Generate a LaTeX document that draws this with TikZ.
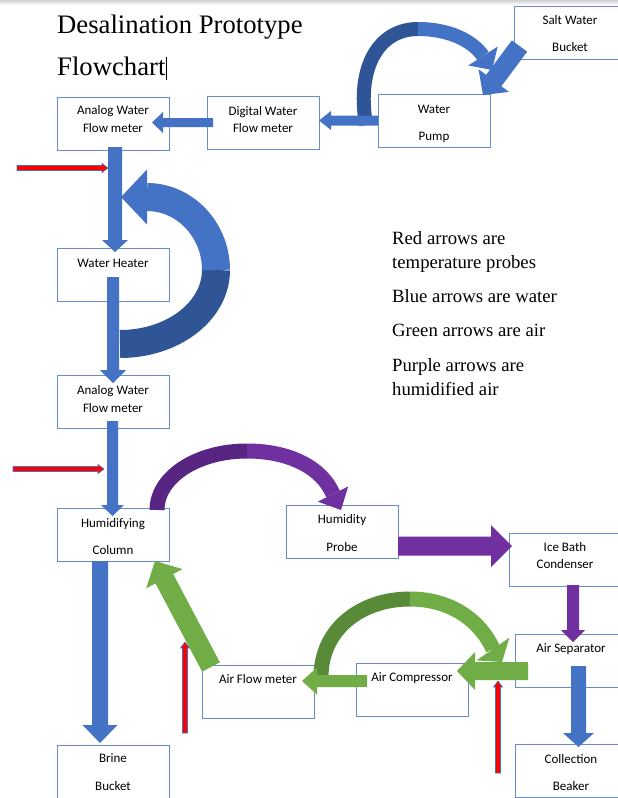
\documentclass[tikz,border=0pt]{standalone}
\usepackage{fontspec}
\setmainfont{Liberation Serif}
\newfontfamily\cf{Carlito}
\usetikzlibrary{calc}
\definecolor{ablue}{RGB}{68,114,196}
\definecolor{adblue}{RGB}{47,85,151}
\definecolor{apurple}{RGB}{112,48,160}
\definecolor{adpurple}{RGB}{88,38,130}
\definecolor{agreen}{RGB}{112,173,71}
\definecolor{adgreen}{RGB}{88,138,55}
\definecolor{ared}{RGB}{255,0,0}
\definecolor{boxc}{RGB}{105,140,208}
% block arrow: style, start, tip, half shaft, half head, head length
\newcommand\barrow[6]{%
  \coordinate (bH) at ($(#3)!#6!(#2)$);
  \fill[#1] ($(#2)!#4!90:(#3)$) -- ($(bH)!#4!90:(#3)$) -- ($(bH)!#5!90:(#3)$) -- (#3)
    -- ($(bH)!#5!-90:(#3)$) -- ($(bH)!#4!-90:(#3)$) -- ($(#2)!#4!-90:(#3)$) -- cycle;}
% arrow head only: style, base, tip, half width
\newcommand\bhead[4]{%
  \fill[#1] ($(#2)!#4!90:(#3)$) -- (#3) -- ($(#2)!#4!-90:(#3)$) -- cycle;}
\begin{document}
\begin{tikzpicture}[x=1pt,y=-1pt,
  box/.style={draw=boxc, line width=0.9pt, fill=white, minimum width=112pt, minimum height=53pt, inner sep=0pt, outer sep=0pt},
  lbl/.style={font={\cf\fontsize{13}{15}\selectfont}, anchor=base, inner sep=0pt},
  ttl/.style={font={\fontsize{26.7}{32}\selectfont}, anchor=base west, inner sep=0pt},
  lgd/.style={font={\fontsize{18.7}{23}\selectfont}, anchor=base west, inner sep=0pt},
  probe/.style={fill=ared, draw=ablue, line width=0.6pt}]
\useasboundingbox (0,0) rectangle (618,798);
\fill[white] (0,0) rectangle (618,798);
\shade[top color=black!18, bottom color=white] (0,0) rectangle (618,5);

% title
\node[ttl] (t1) at (57,33) {Desalination Prototype};
\node[ttl] (t2) at (57,75) {Flowchart};
\draw[line width=0.8pt] ($(t2.base east)+(1,5)$) -- ($(t2.base east)+(1,-18)$);

% boxes
\node[box] (salt) at (570,32.5) {};
\node[box] (pump) at (434,120.5) {};
\node[box] (digital) at (263,123) {};
\node[box] (analogA) at (113,123.5) {};
\node[box] (heater) at (113,274.5) {};
\node[box] (analogB) at (113,401.5) {};
\node[box] (humid) at (113,534.5) {};
\node[box] (hprobe) at (342,531.5) {};
\node[box] (ice) at (565,559.5) {};
\node[box] (airsep) at (571,660.5) {};
\node[box] (flowm) at (258,691.5) {};
\node[box] (comp) at (412,689.5) {};
\node[box] (coll) at (571,770.5) {};
\node[box] (brine) at (113,771.5) {};

% curved arrows
\coordinate (c1a) at (366,125); \coordinate (c1m) at (418,29);
\coordinate (c1h) at (483,56); \coordinate (c1t) at (492,70);
\draw[adblue, line width=14pt] (c1a) .. controls (356,65) and (380,29) .. (c1m);
\draw[ablue, line width=14pt] (c1m) .. controls (448,29) and (472,40) .. (c1h);
\bhead{ablue}{c1h}{c1t}{17.5pt}

% straight arrows (water)
\coordinate (s1a) at (519.5,46); \coordinate (s1b) at (483,95);
\barrow{ablue}{s1a}{s1b}{9.5pt}{19pt}{18pt}
\coordinate (s2a) at (pump.west); \coordinate (s2b) at (digital.east |- pump.west);
\barrow{ablue}{s2a}{s2b}{5pt}{9.5pt}{12pt}
\coordinate (s3a) at (213,122.5); \coordinate (s3b) at (152,122.5);
\barrow{ablue}{s3a}{s3b}{4.5pt}{10.5pt}{11pt}
\coordinate (s4a) at (115,147); \coordinate (s4b) at (115,252);
\barrow{ablue}{s4a}{s4b}{7pt}{13pt}{12pt}
\coordinate (s5a) at (113,277); \coordinate (s5b) at (113,383);
\barrow{ablue}{s5a}{s5b}{6pt}{13pt}{13pt}

% heater loop
\coordinate (c2a) at (120,344); \coordinate (c2m) at (216,270);
\coordinate (c2h) at (147,197); \coordinate (c2t) at (121,197);
\draw[adblue, line width=28pt] (c2a) .. controls (173,344) and (216,311) .. (c2m);
\draw[ablue, line width=28pt] (c2m) .. controls (216,230) and (185,197) .. (c2h);
\bhead{ablue}{c2h}{c2t}{27.5pt}

\coordinate (s6a) at (112.5,421); \coordinate (s6b) at (112.5,516);
\barrow{ablue}{s6a}{s6b}{5.5pt}{11.5pt}{11pt}
\coordinate (s7a) at (100,561); \coordinate (s7b) at (100,743);
\barrow{ablue}{s7a}{s7b}{8pt}{17.5pt}{18pt}

% purple
\coordinate (c3a) at (157,510); \coordinate (c3m) at (247,451);
\coordinate (c3h) at (333,494); \coordinate (c3t) at (341,510);
\draw[adpurple, line width=15pt] (c3a) .. controls (157,477) and (197,451) .. (c3m);
\draw[apurple, line width=15pt] (c3m) .. controls (290,451) and (322,468) .. (c3h);
\bhead{apurple}{c3h}{c3t}{17pt}
\coordinate (s8a) at (398,546); \coordinate (s8b) at (512,546);
\barrow{apurple}{s8a}{s8b}{9.5pt}{21pt}{21pt}
\coordinate (s9a) at (573,585); \coordinate (s9b) at (573,642);
\barrow{apurple}{s9a}{s9b}{6pt}{12pt}{12pt}
\coordinate (s10a) at (578.5,666); \coordinate (s10b) at (578.5,747);
\barrow{ablue}{s10a}{s10b}{7.5pt}{15.5pt}{14pt}

% green
\coordinate (c4a) at (321,677); \coordinate (c4m) at (410,599);
\coordinate (c4h) at (493,649); \coordinate (c4t) at (502,662);
\draw[adgreen, line width=15pt] (c4a) .. controls (321,630) and (360,599) .. (c4m);
\draw[agreen, line width=15pt] (c4m) .. controls (450,599) and (480,620) .. (c4h);
\coordinate (s11a) at (528,671); \coordinate (s11b) at (457,671);
\barrow{agreen}{s11a}{s11b}{9pt}{19pt}{18pt}
\bhead{agreen}{c4h}{c4t}{20pt}
\coordinate (s12a) at (367,681); \coordinate (s12b) at (302,681);
\barrow{agreen}{s12a}{s12b}{6pt}{13.5pt}{15pt}
\coordinate (s13a) at (211,667); \coordinate (s13b) at (155,561);
\barrow{agreen}{s13a}{s13b}{10pt}{20.5pt}{20pt}

% temperature probes
\coordinate (r1a) at (17,168); \coordinate (r1b) at (108,168);
\barrow{probe}{r1a}{r1b}{2.5pt}{4.5pt}{6pt}
\coordinate (r2a) at (13,469); \coordinate (r2b) at (104,469);
\barrow{probe}{r2a}{r2b}{2.5pt}{4.5pt}{6pt}
\coordinate (r3a) at (185,733); \coordinate (r3b) at (185,642);
\barrow{probe}{r3a}{r3b}{2.5pt}{4.5pt}{6pt}
\coordinate (r4a) at (498,773); \coordinate (r4b) at (498,681);
\barrow{probe}{r4a}{r4b}{2.5pt}{4.5pt}{6pt}

% labels
\node[lbl] (saltA) at ($(salt.north)+(0,18.5)$) {Salt Water};
\node[lbl] (saltB) at ($(salt.north)+(0,45.5)$) {Bucket};
\node[lbl] (pumpA) at ($(pump.north)+(0,19.5)$) {Water};
\node[lbl] (pumpB) at ($(pump.north)+(0,46.5)$) {Pump};
\node[lbl] (digA) at ($(digital.north)+(0,18.5)$) {Digital Water};
\node[lbl] (digB) at ($(digital.north)+(0,35.5)$) {Flow meter};
\node[lbl] (anaA) at ($(analogA.north)+(0,17.5)$) {Analog Water};
\node[lbl] (anaB) at ($(analogA.north)+(0,35.5)$) {Flow meter};
\node[lbl] (heatA) at ($(heater.north)+(0,19.5)$) {Water Heater};
\node[lbl] (anbA) at ($(analogB.north)+(0,19.5)$) {Analog Water};
\node[lbl] (anbB) at ($(analogB.north)+(0,37.5)$) {Flow meter};
\node[lbl] (humA) at ($(humid.north)+(0,19.5)$) {Humidifying};
\node[lbl] (humB) at ($(humid.north)+(0,46.5)$) {Column};
\node[lbl] (hpA) at ($(hprobe.north)+(0,18.5)$) {Humidity};
\node[lbl] (hpB) at ($(hprobe.north)+(0,46.5)$) {Probe};
\node[lbl] (iceA) at ($(ice.north)+(0,18.5)$) {Ice Bath};
\node[lbl] (iceB) at ($(ice.north)+(0,35.5)$) {Condenser};
\node[lbl] (sepA) at ($(airsep.north)+(0,18.5)$) {Air Separator};
\node[lbl] (flA) at ($(flowm.north)+(0,18.5)$) {Air Flow meter};
\node[lbl] (cmpA) at ($(comp.north)+(0,18.5)$) {Air Compressor};
\node[lbl] (colA) at ($(coll.north)+(0,19.5)$) {Collection};
\node[lbl] (colB) at ($(coll.north)+(0,46.5)$) {Beaker};
\node[lbl] (brA) at ($(brine.north)+(0,17.5)$) {Brine};
\node[lbl] (brB) at ($(brine.north)+(0,45.5)$) {Bucket};

% legend
\node[lgd] (lg1) at (392,244) {Red arrows are};
\node[lgd] (lg2) at (392,268) {temperature probes};
\node[lgd] (lg3) at (392,302) {Blue arrows are water};
\node[lgd] (lg4) at (392,336) {Green arrows are air};
\node[lgd] (lg5) at (392,371) {Purple arrows are};
\node[lgd] (lg6) at (392,395) {humidified air};
\end{tikzpicture}
\end{document}
